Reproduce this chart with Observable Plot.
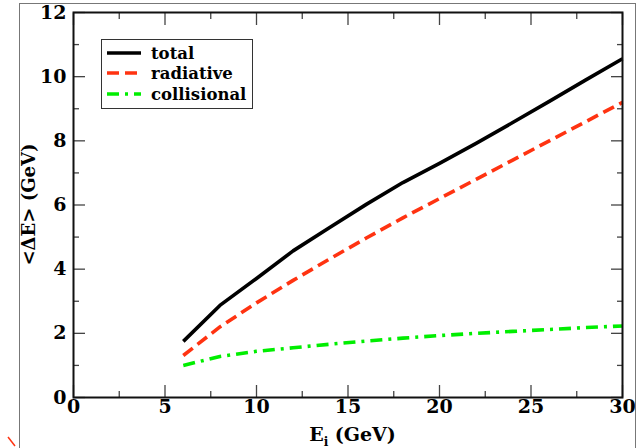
<!DOCTYPE html>
<html><head><meta charset="utf-8">
<script src="https://cdn.jsdelivr.net/npm/d3@7"></script>
<script src="https://cdn.jsdelivr.net/npm/@observablehq/plot@0.6"></script>
<style>
body{margin:0;background:#fff}
#chart{position:relative;width:644px;height:448px;overflow:hidden;background:#fff}
#chart svg{display:block}
</style>
</head><body><div id="chart"></div>
<script>
// ---- data ----
const energies    = [6, 8, 10, 12, 14, 16, 18, 20, 22, 24, 26, 28, 30];
const total       = [1.75, 2.87, 3.71, 4.57, 5.30, 6.02, 6.70, 7.30, 7.92, 8.57, 9.23, 9.90, 10.56];
const radiative   = [1.31, 2.20, 2.95, 3.65, 4.32, 4.97, 5.60, 6.20, 6.80, 7.40, 8.00, 8.60, 9.20];
const collisional = [1.00, 1.28, 1.44, 1.55, 1.66, 1.76, 1.85, 1.93, 2.00, 2.06, 2.12, 2.18, 2.23];
const seriesNames = ["total", "radiative", "collisional"];
const seriesValues = [total, radiative, collisional];
const seriesColors = ["#000000", "#ff3311", "#00ee00"];
const seriesDashes = [null, "12,6", "12,6,3,6"];
const xMajorTicks = [0, 5, 10, 15, 20, 25, 30];
const xMinorTicks = [2.5, 7.5, 12.5, 17.5, 22.5, 27.5];
const yMajorTicks = [0, 2, 4, 6, 8, 10, 12];
const yMinorTicks = [1, 3, 5, 7, 9, 11];
const xLabel = ["E", "i", " (GeV)"];
const yLabel = "<ΔE> (GeV)";

const FONT = "DejaVu Serif";
const tickColor = "#444";

const lineMarks = seriesNames.map((name, i) =>
  Plot.line(energies.map((e, j) => ({E: e, dE: seriesValues[i][j], s: name})), {
    x: "E", y: "dE", stroke: seriesColors[i], strokeWidth: 3.6,
    strokeDasharray: seriesDashes[i] || undefined, strokeLinecap: "butt"
  })
);

const plot = Plot.plot({
  width: 644, height: 448,
  marginLeft: 73, marginRight: 22, marginTop: 12, marginBottom: 51,
  x: {domain: [0, 30]},
  y: {domain: [0, 12]},
  style: {fontSize: "18px", background: "white", color: "black", overflow: "visible"},
  marks: [
    Plot.axisX(xMajorTicks, {anchor: "bottom", tickSize: -12, tickFormat: () => "", label: null, stroke: tickColor, strokeWidth: 1.3}),
    Plot.axisX(xMinorTicks, {anchor: "bottom", tickSize: -6, tickFormat: () => "", label: null, stroke: tickColor, strokeWidth: 1.3}),
    Plot.axisX(xMajorTicks, {anchor: "top", tickSize: -12, tickFormat: () => "", label: null, stroke: tickColor, strokeWidth: 1.3}),
    Plot.axisX(xMinorTicks, {anchor: "top", tickSize: -6, tickFormat: () => "", label: null, stroke: tickColor, strokeWidth: 1.3}),
    Plot.axisY(yMajorTicks, {anchor: "left", tickSize: -12, tickFormat: () => "", label: null, stroke: tickColor, strokeWidth: 1.3}),
    Plot.axisY(yMinorTicks, {anchor: "left", tickSize: -6, tickFormat: () => "", label: null, stroke: tickColor, strokeWidth: 1.3}),
    Plot.axisY(yMajorTicks, {anchor: "right", tickSize: -12, tickFormat: () => "", label: null, stroke: tickColor, strokeWidth: 1.3}),
    Plot.axisY(yMinorTicks, {anchor: "right", tickSize: -6, tickFormat: () => "", label: null, stroke: tickColor, strokeWidth: 1.3}),
    Plot.axisX(xMajorTicks, {anchor: "bottom", tickSize: 0, tickPadding: 2, tickFormat: d => String(d), label: null, fontSize: 19, fill: "black"}),
    Plot.axisY(yMajorTicks, {anchor: "left", tickSize: 0, tickPadding: 7, tickFormat: d => String(d), label: null, fontSize: 19, fill: "black"}),
    ...lineMarks,
    Plot.frame({stroke: "#111", strokeWidth: 2})
  ]
});

document.getElementById("chart").appendChild(plot);

const svg = d3.select(plot);
const sx = plot.scale("x"), sy = plot.scale("y");

svg.attr("font-family", FONT);
svg.selectAll("text").attr("font-family", FONT).attr("font-weight", "bold");

svg.append("rect").attr("x", 19.5).attr("y", 3.5).attr("width", 616).attr("height", 460)
  .attr("fill", "none").attr("stroke", "#777").attr("stroke-width", 1);
svg.append("line").attr("x1", 8).attr("y1", 437).attr("x2", 15).attr("y2", 446)
  .attr("stroke", "#ff3311").attr("stroke-width", 1.5);

const xt = svg.append("text")
  .attr("x", (sx.apply(0) + sx.apply(30)) / 2 + 5).attr("y", 441)
  .attr("text-anchor", "middle")
  .attr("font-family", FONT).attr("font-weight", "bold")
  .attr("font-size", 19);
xt.append("tspan").text(xLabel[0]);
xt.append("tspan").attr("dy", 5).attr("font-size", 12).text(xLabel[1]);
xt.append("tspan").attr("dy", -5).text(xLabel[2]);

svg.append("text")
  .attr("transform", `translate(35,${(sy.apply(0) + sy.apply(12)) / 2}) rotate(-90)`)
  .attr("text-anchor", "middle")
  .attr("font-family", FONT).attr("font-weight", "bold")
  .attr("font-size", 18)
  .text(yLabel);

const lg = svg.append("g");
lg.append("rect").attr("x", 101.5).attr("y", 39.5).attr("width", 151).attr("height", 69)
  .attr("fill", "white").attr("stroke", "#333").attr("stroke-width", 1);
const rowY = [53, 73, 94];
seriesNames.forEach((name, i) => {
  lg.append("line").attr("x1", 107).attr("x2", 141).attr("y1", rowY[i]).attr("y2", rowY[i])
    .attr("stroke", seriesColors[i]).attr("stroke-width", 3.4)
    .attr("stroke-dasharray", seriesDashes[i] || null);
  lg.append("text").attr("x", 151).attr("y", rowY[i] + 6)
    .attr("text-anchor", "start")
    .attr("font-family", FONT).attr("font-weight", "bold")
    .attr("font-size", 16.5)
    .text(name);
});
</script>
</body></html>
